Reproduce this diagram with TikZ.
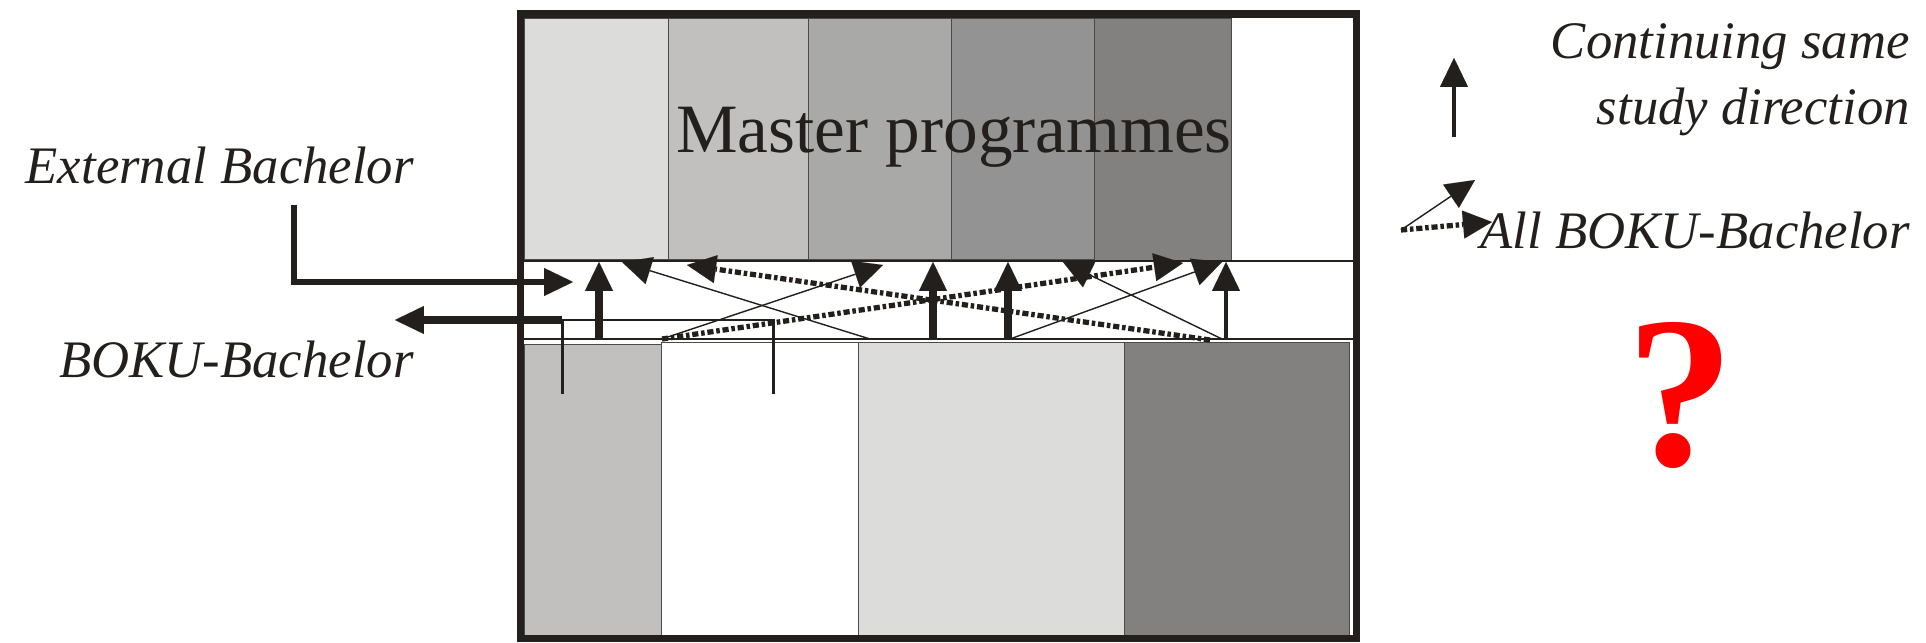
\documentclass[tikz,border=0pt]{standalone}
\usepackage{fontspec}
\setmainfont{Liberation Serif}
\usetikzlibrary{positioning,arrows.meta}
\definecolor{ink}{HTML}{231F1C}
\definecolor{sepline}{HTML}{4A4A4A}
\definecolor{gA}{HTML}{DCDCDB}
\definecolor{gB}{HTML}{C1C0BE}
\definecolor{gC}{HTML}{A9A9A8}
\definecolor{gD}{HTML}{939393}
\definecolor{gE}{HTML}{82817F}

\begin{document}
\begin{tikzpicture}[x=0.02cm, y=-0.02cm,
    >={Triangle[length=16.5pt, width=16pt, line width=0.01pt]},
    lbl/.style={inner sep=0, text=ink, font=\fontsize{30}{36}\selectfont\itshape},
    colbox/.style={draw=sepline, line width=0.5pt},
    flow/.style={draw=ink, line width=4.5pt},
    cross/.style={draw=ink, line width=0.8pt},
    dotflow/.style={draw=ink, line width=3pt, dash pattern=on 3.5pt off 1.6pt on 2pt off 1.6pt}]
\useasboundingbox (0,0) rectangle (1926,642);

% master columns
\filldraw[colbox, fill=gA] (524,18) rectangle (668,259);
\filldraw[colbox, fill=gB] (668,18) rectangle (808,259);
\filldraw[colbox, fill=gC] (808,18) rectangle (951,259);
\filldraw[colbox, fill=gD] (951,18) rectangle (1094,259);
\filldraw[colbox, fill=gE] (1094,18) rectangle (1231,260);
% bachelor columns
\filldraw[colbox, fill=gB] (524,344) rectangle (661,636);
\filldraw[colbox, fill=white] (661,342) rectangle (858,636);
\filldraw[colbox, fill=gA] (858,342) rectangle (1124,636);
\filldraw[colbox, fill=gE] (1124,342) rectangle (1349,636);

\draw[ink, line width=1.7pt] (524,261) -- (1353,261);
\draw[ink, line width=1.7pt] (524,339) -- (1353,339);
\draw[ink, line width=4pt] (520.5,14) rectangle (1356.5,638.5);

\node[inner sep=0, text=ink, font=\fontsize{39.4}{47}\selectfont, anchor=base] (master) at (954,153) {Master programmes};

\node[lbl, anchor=base east] (ext) at (414,183) {External Bachelor};
\node[lbl, anchor=base east] (boku) at (414,377) {BOKU-Bachelor};
\node[lbl, anchor=base east] (cont) at (1910,59) {Continuing same};
\node[lbl, below left=3.4mm and 0mm of cont.south east] (study) {study direction};
\node[lbl, anchor=base east] (allb) at (1910,248) {All BOKU-Bachelor};
\node[inner sep=0, text=red, font=\fontsize{123}{140}\selectfont\bfseries, anchor=base] (qm) at (1681,465) {?};

% external in, boku out
\coordinate (extstart) at (294,205);
\coordinate (extbend) at (294,282);
\coordinate (extin) at (573,282);
\draw[->, draw=ink, line width=3.4pt] (extstart) -- (extbend) -- (extin);
\coordinate (bk1) at (562,394);
\coordinate (bk2) at (773,394);
\coordinate (bkjoin) at (562,320);
\coordinate (bkcorner) at (773,320);
\coordinate (bkout) at (395,320);
\draw[ink, line width=1.7pt] (bk2) -- (bkcorner) -- (bkjoin) -- (bk1);
\draw[->, draw=ink, line width=4pt] (bkjoin) -- (bkout);

% same direction
\coordinate (s1) at (599,339);   \coordinate (m1) at (599,262);
\coordinate (s2) at (933,339);   \coordinate (m2) at (933,262);
\coordinate (s3) at (1008,339);  \coordinate (m3) at (1008,262);
\coordinate (s4) at (1226,339);  \coordinate (m4) at (1226,262);
\draw[->, flow] (s1) -- (m1);
\draw[->, flow] (s2) -- (m2);
\draw[->, flow] (s3) -- (m3);
\draw[->, flow, line width=2.8pt] (s4) -- (m4);

% changing direction
\coordinate (c1) at (662,339);   \coordinate (t1) at (883,265);
\coordinate (c2) at (870,339);   \coordinate (t2) at (622,262);
\coordinate (c3) at (1010,339);  \coordinate (t3) at (1222,262);
\coordinate (c4) at (1222,339);  \coordinate (t4) at (1063,262);
\draw[->, cross] (c1) -- (t1);
\draw[->, cross] (c2) -- (t2);
\draw[->, cross] (c3) -- (t3);
\draw[->, cross] (c4) -- (t4);
\coordinate (d1) at (662,339);   \coordinate (e1) at (1183,263);
\coordinate (d2) at (1210,340);  \coordinate (e2) at (687,265);
\draw[->, dotflow] (d1) -- (e1);
\draw[->, dotflow] (d2) -- (e2);

% legend
\coordinate (legup0) at (1454,137);
\coordinate (legup1) at (1454,58);
\draw[->, draw=ink, line width=2.3pt] (legup0) -- (legup1);
\coordinate (leg0) at (1401,230);
\coordinate (legthin) at (1475,180);
\coordinate (legdot) at (1492,222);
\draw[->, cross] (leg0) -- (legthin);
\draw[->, dotflow] (leg0) -- (legdot);
\end{tikzpicture}
\end{document}
